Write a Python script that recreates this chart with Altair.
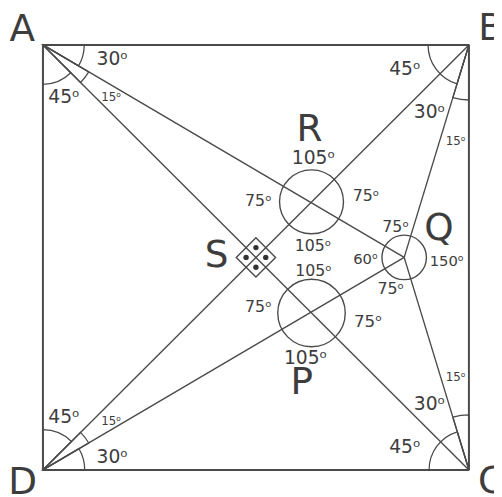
import math
import altair as alt
import pandas as pd

# ---- data (diagram coordinates, y grows downward) ----
point_names = ["A", "B", "C", "D", "Q", "S", "R", "P"]
point_x = [43.5, 476.5, 476.5, 43.5, 410.7, 260.0, 316.5, 316.5]
point_y = [41.5, 41.5, 473.5, 473.5, 257.5, 257.5, 201.0, 314.0]

# segments of the figure
seg_from = ["A", "B", "C", "D", "A", "B", "A", "B", "C", "D"]
seg_to = ["B", "C", "D", "A", "C", "D", "Q", "Q", "Q", "Q"]
seg_width = [2.0, 2.0, 2.0, 2.0, 1.4, 1.4, 1.4, 1.4, 1.4, 1.4]

# full circles around intersection points
circle_at = ["R", "P", "Q"]
circle_r = [32.5, 34.3, 22.6]

# angle arcs: vertex, from-point, to-point, radius
arc_at = ["A", "A", "A", "B", "B", "C", "C", "D", "D", "D"]
arc_from = ["B", "Q", "C", "A", "Q", "D", "Q", "A", "B", "Q"]
arc_to = ["Q", "C", "D", "Q", "C", "Q", "B", "B", "Q", "C"]
arc_r = [42, 54, 40, 41.5, 56, 40.5, 56, 41, 54, 42.5]

# right-angle marker dots around S
dot_dx = [0, 10, 0, -10]
dot_dy = [-10, 0, 10, 0]

DEG = "\u1d52"

# labels
label_text = ["A", "B", "C", "D", "R", "Q", "S", "P",
              "30" + DEG, "45" + DEG, "15" + DEG,
              "45" + DEG, "30" + DEG, "15" + DEG,
              "45" + DEG, "30" + DEG, "15" + DEG,
              "45" + DEG, "15" + DEG, "30" + DEG,
              "105" + DEG, "75" + DEG, "75" + DEG, "105" + DEG,
              "105" + DEG, "75" + DEG, "75" + DEG, "105" + DEG,
              "75" + DEG, "60" + DEG, "150" + DEG, "75" + DEG]
label_x = [22.5, 499, 499, 23, 314.5, 446, 220, 306.5,
           114, 65, 113,
           411.5, 436.5, 463,
           411.5, 436.5, 463,
           65, 113, 114,
           318.5, 262.5, 372, 318,
           318.5, 262.5, 374, 310.5,
           402, 371.5, 454, 397]
label_y = [27, 26, 486, 487, 128, 229, 256, 385,
           56, 95, 95,
           66.5, 110, 139,
           450, 407, 379,
           420, 424, 460,
           157, 200, 195, 246,
           271, 308, 323.5, 360,
           226.5, 259, 261, 290]
label_size = [38, 38, 38, 38, 38, 38, 38, 38,
              19, 19, 12,
              19, 19, 12,
              19, 19, 12,
              19, 12, 19,
              19, 16, 16, 16,
              16, 16, 17, 19,
              16, 15, 15, 16]

LINE = "#4a4a4a"
TEXT = "#3d3d3d"

pts = {n: (x, y) for n, x, y in zip(point_names, point_x, point_y)}

seg_df = pd.DataFrame({
    "x": [pts[a][0] for a in seg_from], "y": [pts[a][1] for a in seg_from],
    "x2": [pts[b][0] for b in seg_to], "y2": [pts[b][1] for b in seg_to],
    "w": seg_width,
})

circ_df = pd.DataFrame({
    "x": [pts[c][0] for c in circle_at], "y": [pts[c][1] for c in circle_at],
    "s": [(2 * r) ** 2 for r in circle_r],
})


def direction(p, q):
    dx = pts[q][0] - pts[p][0]
    dy = pts[q][1] - pts[p][1]
    return math.atan2(dx, -dy)


t1s, t2s = [], []
for v, f, t in zip(arc_at, arc_from, arc_to):
    a1 = direction(v, f)
    a2 = direction(v, t)
    while a2 - a1 > math.pi:
        a2 -= 2 * math.pi
    while a1 - a2 > math.pi:
        a2 += 2 * math.pi
    t1s.append(min(a1, a2))
    t2s.append(max(a1, a2))

arc_df = pd.DataFrame({
    "x": [pts[v][0] for v in arc_at], "y": [pts[v][1] for v in arc_at],
    "t1": t1s, "t2": t2s, "r": arc_r,
})

s_df = pd.DataFrame({"x": [pts["S"][0]], "y": [pts["S"][1]]})
dot_df = pd.DataFrame({
    "x": [pts["S"][0] + d for d in dot_dx],
    "y": [pts["S"][1] + d for d in dot_dy],
})

lab_df = pd.DataFrame({"t": label_text, "x": label_x, "y": label_y, "fs": label_size})

xs = alt.Scale(domain=[8, 502], nice=False, zero=False)
ys = alt.Scale(domain=[8, 497], nice=False, zero=False, reverse=True)
X = alt.X("x:Q", scale=xs, axis=None)
Y = alt.Y("y:Q", scale=ys, axis=None)

rules = alt.Chart(seg_df).mark_rule(color=LINE).encode(
    x=X, y=Y, x2="x2:Q", y2="y2:Q",
    strokeWidth=alt.StrokeWidth("w:Q", scale=None, legend=None),
)

circles = alt.Chart(circ_df).mark_point(
    shape="circle", filled=False, color=LINE, strokeWidth=1.4, opacity=1
).encode(x=X, y=Y, size=alt.Size("s:Q", scale=None, legend=None))

arcs = alt.Chart(arc_df).mark_arc(
    filled=False, color=LINE, strokeWidth=1.3
).encode(
    x=X, y=Y,
    theta=alt.Theta("t1:Q", scale=None, stack=None),
    theta2="t2:Q",
    radius=alt.Radius("r:Q", scale=None),
)

diamond = alt.Chart(s_df).mark_point(
    shape="diamond", filled=False, color=LINE, strokeWidth=1.4, size=1600, opacity=1
).encode(x=X, y=Y)

dots = alt.Chart(dot_df).mark_circle(color="#333333", size=30, opacity=1).encode(x=X, y=Y)

labels = alt.Chart(lab_df).mark_text(
    font="DejaVu Sans", color=TEXT, align="center", baseline="middle"
).encode(
    x=X, y=Y, text="t:N",
    size=alt.Size("fs:Q", scale=None, legend=None),
)

chart = alt.layer(rules, arcs, circles, diamond, dots, labels).properties(
    width=494, height=489, padding=0, autosize="none"
).configure_view(stroke=None)

chart.save("out.html", embed_options={"renderer": "svg", "actions": False})
